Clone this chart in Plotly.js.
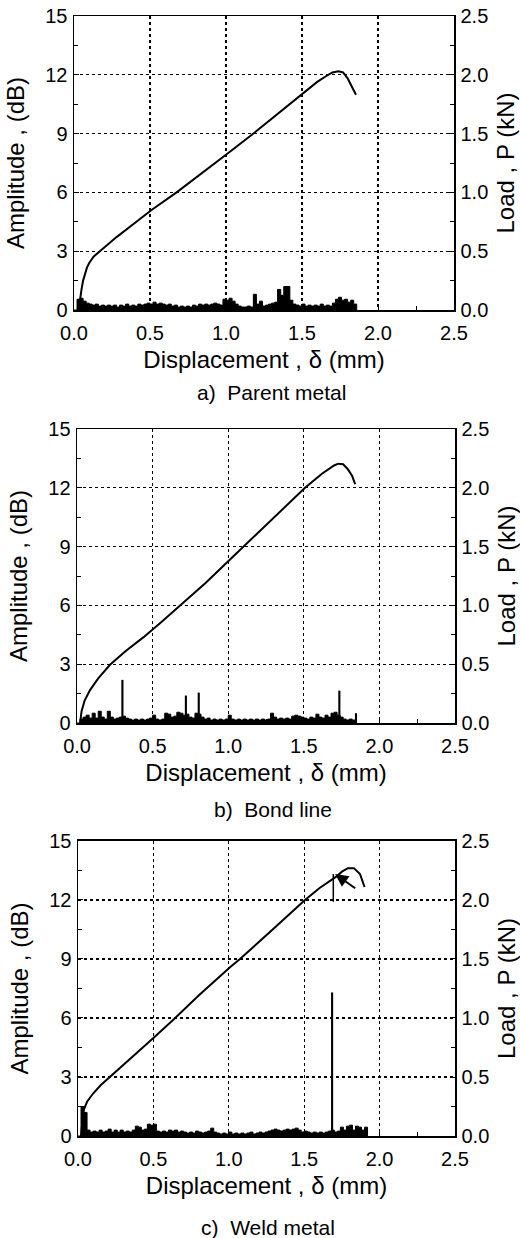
<!DOCTYPE html>
<html>
<head>
<meta charset="utf-8">
<script src="https://cdn.plot.ly/plotly-3.0.1.min.js"></script>
<style>html,body{margin:0;padding:0;background:#fff;}#chart{width:520px;height:1238px;}</style>
</head>
<body>
<div id="chart"></div>
<script>
// ---------- data ----------
const panelCaptions = ["a)  Parent metal", "b)  Bond line", "c)  Weld metal"];
const xTitle = "Displacement , δ (mm)";
const ampTitle = "Amplitude , (dB)";
const loadTitle = "Load , P (kN)";

// displacement grid for AE amplitude records (mm)
const dispGrid = [0.00,0.02,0.04,0.06,0.08,0.10,0.12,0.14,0.16,0.18,0.20,0.22,0.24,0.26,0.28,0.30,0.32,0.34,0.36,0.38,
0.40,0.42,0.44,0.46,0.48,0.50,0.52,0.54,0.56,0.58,0.60,0.62,0.64,0.66,0.68,0.70,0.72,0.74,0.76,0.78,
0.80,0.82,0.84,0.86,0.88,0.90,0.92,0.94,0.96,0.98,1.00,1.02,1.04,1.06,1.08,1.10,1.12,1.14,1.16,1.18,
1.20,1.22,1.24,1.26,1.28,1.30,1.32,1.34,1.36,1.38,1.40,1.42,1.44,1.46,1.48,1.50,1.52,1.54,1.56,1.58,
1.60,1.62,1.64,1.66,1.68,1.70,1.72,1.74,1.76,1.78,1.80,1.82,1.84,1.86,1.88,1.90,1.92];

// AE amplitude (dB), panel a
const ampA = [0,0.55,0.6,0.45,0.35,0.3,0.25,0.3,0.2,0.25,0.2,0.25,0.2,0.25,0.15,0.25,0.2,0.3,0.2,0.25,
0.2,0.3,0.25,0.3,0.35,0.3,0.4,0.3,0.35,0.3,0.25,0.3,0.2,0.25,0.15,0.2,0.15,0.2,0.15,0.25,
0.2,0.3,0.25,0.3,0.25,0.3,0.35,0.3,0.25,0.55,0.5,0.6,0.45,0.3,0.2,0.15,0.15,0.2,0.15,0.8,
0.3,0.45,0.2,0.25,0.3,0.35,0.4,1.05,0.75,1.2,1.2,0.5,0.3,0.25,0.2,0.3,0.2,0.25,0.2,0.25,
0.2,0.3,0.2,0.25,0.2,0.35,0.55,0.65,0.5,0.55,0.4,0.5,0.3,0];
// AE amplitude (dB), panel b
const ampB = [0,0.2,0.3,0.4,0.25,0.5,0.25,0.6,0.3,0.2,0.6,0.3,0.2,0.25,0.3,0.35,0.25,0.2,0.15,0.2,
0.15,0.2,0.15,0.2,0.25,0.4,0.2,0.15,0.2,0.5,0.45,0.3,0.35,0.55,0.5,0.4,0.45,0.3,0.25,0.5,
0.45,0.3,0.2,0.25,0.15,0.2,0.15,0.2,0.15,0.2,0.4,0.2,0.15,0.2,0.15,0.2,0.15,0.2,0.15,0.2,
0.15,0.2,0.15,0.2,0.5,0.3,0.2,0.25,0.2,0.25,0.2,0.35,0.4,0.35,0.3,0.25,0.2,0.3,0.25,0.45,
0.3,0.25,0.4,0.3,0.5,0.55,0.4,0.3,0.2,0.15,0.2,0.15,0];
// AE amplitude (dB), panel c
const ampC = [0,1.5,1.2,0.3,0.2,0.25,0.2,0.3,0.2,0.25,0.35,0.2,0.3,0.2,0.3,0.2,0.25,0.2,0.3,0.5,
0.45,0.3,0.35,0.6,0.55,0.6,0.25,0.2,0.25,0.2,0.3,0.25,0.3,0.2,0.25,0.2,0.15,0.2,0.15,0.25,
0.2,0.15,0.2,0.25,0.4,0.2,0.15,0.1,0.15,0.1,0.2,0.1,0.15,0.1,0.15,0.1,0.15,0.2,0.1,0.15,
0.2,0.15,0.2,0.25,0.3,0.35,0.3,0.25,0.3,0.35,0.3,0.35,0.4,0.3,0.2,0.25,0.2,0.15,0.2,0.15,
0.2,0.15,0.2,0.25,0.3,0.2,0.25,0.45,0.3,0.5,0.55,0.3,0.5,0.45,0.3,0.45,0];

// isolated AE hits (high-amplitude spikes)
const spikeXA = [1.19, 1.345, 1.40];
const spikeYA = [0.8, 1.05, 1.2];
const spikeXB = [0.30, 0.72, 0.805, 1.735, 1.845];
const spikeYB = [2.2, 1.4, 1.55, 1.65, 0.5];
const spikeXC = [1.685];
const spikeYC = [7.3];

// load–displacement curves (kN)
const loadXA = [0.03,0.04,0.05,0.06,0.07,0.085,0.10,0.13,0.17,0.28,0.40,0.51,0.675,0.85,1.015,1.17,1.34,1.505,1.60,1.66,1.70,1.74,1.77,1.80,1.83,1.855];
const loadYA = [0.0,0.10,0.18,0.25,0.30,0.36,0.40,0.455,0.50,0.62,0.74,0.85,1.0,1.17,1.335,1.49,1.67,1.845,1.94,1.99,2.02,2.03,2.02,1.97,1.90,1.83];
const loadXB = [0.02,0.03,0.05,0.086,0.14,0.218,0.32,0.44,0.56,0.68,0.85,1.012,1.17,1.34,1.508,1.62,1.70,1.728,1.76,1.79,1.82,1.84];
const loadYB = [0.0,0.10,0.19,0.28,0.38,0.495,0.61,0.73,0.86,1.0,1.19,1.39,1.585,1.79,2.0,2.12,2.19,2.205,2.20,2.16,2.10,2.03];
const loadXC = [0.02,0.025,0.035,0.06,0.10,0.15,0.212,0.35,0.50,0.632,0.80,1.008,1.074,1.30,1.505,1.60,1.715,1.75,1.79,1.83,1.87,1.90];
const loadYC = [0.0,0.08,0.21,0.29,0.36,0.43,0.50,0.66,0.83,0.985,1.19,1.43,1.5,1.76,2.0,2.1,2.2,2.24,2.27,2.27,2.22,2.11];

// marker in panel c: vertical tick at the event, and arrow pointing to it
const markerX = [1.693, 1.693];
const markerY = [1.985, 2.22];
const arrowTip = [1.705, 2.22];
const arrowTail = [1.848, 2.09];

// axis ticks
const xTicks = [0, 0.5, 1.0, 1.5, 2.0, 2.5];
const ampTicks = [0, 3, 6, 9, 12, 15];
const loadTicks = [0, 0.5, 1.0, 1.5, 2.0, 2.5];

// ---------- build ----------
const FONT = "Liberation Sans, Arial, sans-serif";
const sets = [
  {amp: ampA, sx: spikeXA, sy: spikeYA, lx: loadXA, ly: loadYA},
  {amp: ampB, sx: spikeXB, sy: spikeYB, lx: loadXB, ly: loadYB},
  {amp: ampC, sx: spikeXC, sy: spikeYC, lx: loadXC, ly: loadYC}
];
const traces = [];
const layout = {
  width: 520, height: 1238,
  margin: {l: 74, r: 65, t: 16, b: 102},
  paper_bgcolor: "#fff", plot_bgcolor: "#fff",
  showlegend: false,
  font: {family: FONT, color: "#000", size: 20},
  annotations: [],
  shapes: []
};
const yDomains = [[0.7375, 1.0], [0.36875, 0.63125], [0, 0.2634]];
const xDomains = [[0, 0.9974], [0.008, 1], [0.0105, 1]];
const capY = [0.6634, 0.2911, -0.0821];
const capX = [0.518, 0.521, 0.509];

sets.forEach((s, i) => {
  const xa = i === 0 ? "x" : "x" + (i + 1);
  const ya = "y" + (2 * i + 1 === 1 ? "" : (2 * i + 1));
  const yb = "y" + (2 * i + 2);
  const xKey = i === 0 ? "xaxis" : "xaxis" + (i + 1);
  const yKeyA = 2 * i + 1 === 1 ? "yaxis" : "yaxis" + (2 * i + 1);
  const yKeyB = "yaxis" + (2 * i + 2);

  traces.push({
    type: "scatter", mode: "lines", x: dispGrid.slice(0, s.amp.length), y: s.amp,
    xaxis: xa, yaxis: ya, line: {shape: "hv", color: "#000", width: 1},
    fill: "tozeroy", fillcolor: "#000", hoverinfo: "skip"
  });
  traces.push({
    type: "bar", x: s.sx, y: s.sy, width: 0.014, xaxis: xa, yaxis: ya,
    marker: {color: "#000", line: {width: 0}}, hoverinfo: "skip"
  });
  traces.push({
    type: "scatter", mode: "lines", x: s.lx, y: s.ly, xaxis: xa, yaxis: yb,
    line: {color: "#000", width: 2, shape: "linear"}, hoverinfo: "skip"
  });

  layout[xKey] = {
    domain: xDomains[i], anchor: ya, range: [0, 2.5],
    tickvals: xTicks, tickformat: ".1f", ticks: "inside", ticklen: 5, tickcolor: "#000",
    minor: {tickvals: [0.25, 0.75, 1.25, 1.75, 2.25], ticks: "inside", ticklen: 4, tickcolor: "#000", showgrid: false},
    showline: true, linecolor: "#000", linewidth: 1.5, mirror: true,
    showgrid: true, gridcolor: "#000", griddash: "dot", gridwidth: 1.2,
    zeroline: false, ticklabelstandoff: 4,
    tickfont: {family: FONT, size: 20, color: "#000"},
    title: {text: xTitle, font: {family: FONT, size: 24, color: "#000"}, standoff: 8}
  };
  layout[yKeyA] = {
    domain: yDomains[i], anchor: xa, range: [0, 15],
    tickvals: ampTicks, ticks: "inside", ticklen: 5, tickcolor: "#000",
    minor: {tickvals: [1.5, 4.5, 7.5, 10.5, 13.5], ticks: "inside", ticklen: 4, tickcolor: "#000", showgrid: false},
    showline: true, linecolor: "#000", linewidth: 1.5,
    showgrid: true, gridcolor: "#000", griddash: "dot", gridwidth: 1.2,
    zeroline: false, ticklabelstandoff: 1,
    tickfont: {family: FONT, size: 20, color: "#000"},
    title: {text: ampTitle, font: {family: FONT, size: 24, color: "#000"}, standoff: 14}
  };
  layout[yKeyB] = {
    domain: yDomains[i], anchor: xa, overlaying: ya, side: "right", range: [0, 2.5],
    tickvals: loadTicks, tickformat: ".1f", ticks: "inside", ticklen: 5, tickcolor: "#000",
    minor: {tickvals: [0.25, 0.75, 1.25, 1.75, 2.25], ticks: "inside", ticklen: 4, tickcolor: "#000", showgrid: false},
    showline: true, linecolor: "#000", linewidth: 1.5,
    showgrid: false, zeroline: false, ticklabelstandoff: 1,
    tickfont: {family: FONT, size: 20, color: "#000"},
    title: {text: loadTitle, font: {family: FONT, size: 24, color: "#000"}, standoff: 10}
  };
  layout.annotations.push({
    text: panelCaptions[i], xref: "paper", yref: "paper", x: capX[i], y: capY[i],
    xanchor: "center", yanchor: "middle", showarrow: false,
    font: {family: FONT, size: 21, color: "#000"}
  });
});

// panel c marker line and arrow
traces.push({
  type: "scatter", mode: "lines", x: markerX, y: markerY, xaxis: "x3", yaxis: "y6",
  line: {color: "#000", width: 1.5}, hoverinfo: "skip"
});
layout.annotations.push({
  x: arrowTip[0], y: arrowTip[1], xref: "x3", yref: "y6",
  ax: arrowTail[0], ay: arrowTail[1], axref: "x3", ayref: "y6",
  showarrow: true, arrowhead: 2, arrowsize: 1.3, arrowwidth: 2, arrowcolor: "#000", text: ""
});

Plotly.newPlot("chart", traces, layout, {staticPlot: true, displayModeBar: false});
</script>
</body>
</html>
